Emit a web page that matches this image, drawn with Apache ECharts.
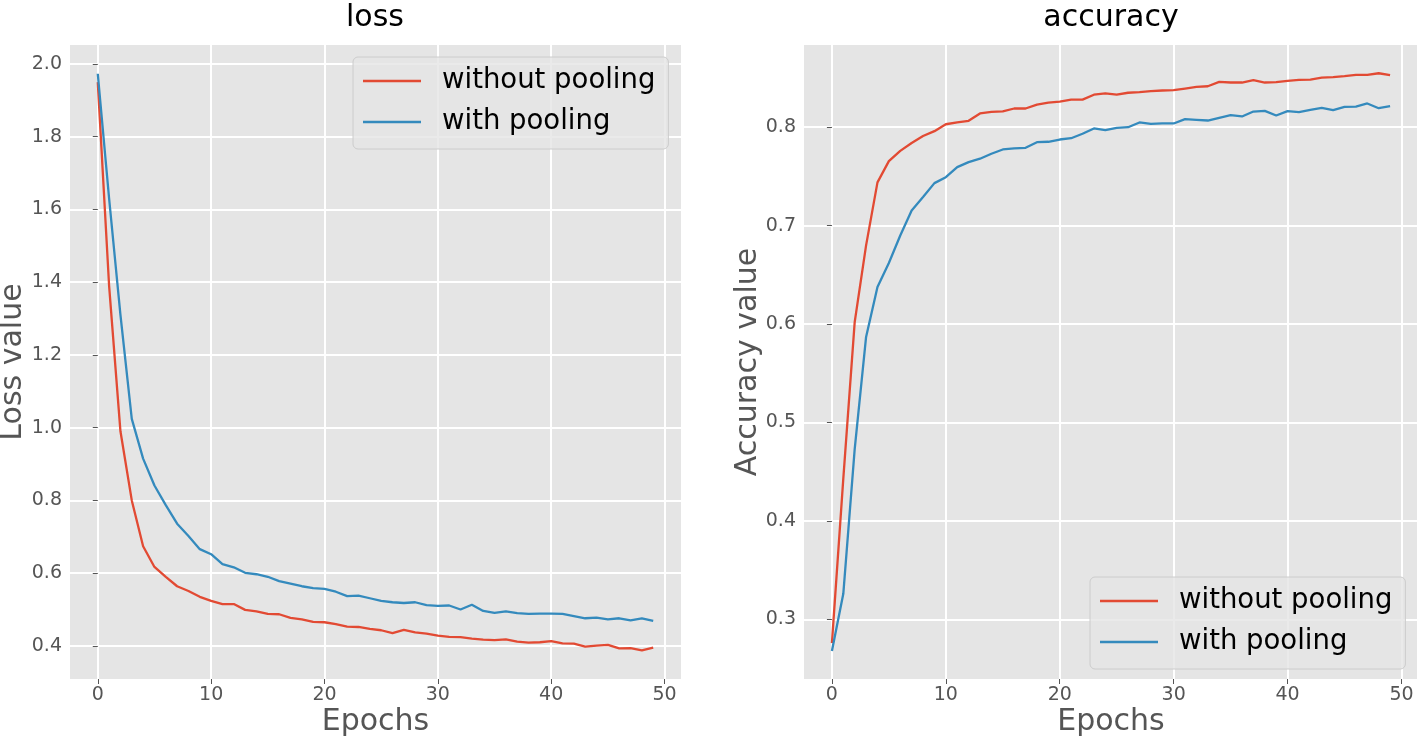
<!DOCTYPE html>
<html>
<head>
<meta charset="utf-8">
<script src="https://cdn.jsdelivr.net/npm/echarts@6/dist/echarts.min.js"></script>
<style>
html,body{margin:0;padding:0;background:#fff;}
#chart{width:1417px;height:736px;}
</style>
</head>
<body>
<div id="chart"></div>
<script>
const epochs = [0,1,2,3,4,5,6,7,8,9,10,11,12,13,14,15,16,17,18,19,20,21,22,23,24,25,26,27,28,29,30,31,32,33,34,35,36,37,38,39,40,41,42,43,44,45,46,47,48,49];

const lossWithoutPooling = [1.950,1.39,0.99,0.80,0.674,0.617,0.590,0.564,0.551,0.535,
  0.524,0.515,0.515,0.499,0.495,0.488,0.487,0.477,0.473,0.466,
  0.465,0.460,0.453,0.452,0.447,0.443,0.435,0.444,0.437,0.434,
  0.428,0.425,0.424,0.420,0.417,0.416,0.418,0.412,0.409,0.410,
  0.413,0.407,0.406,0.398,0.401,0.403,0.393,0.394,0.388,0.395];

const lossWithPooling = [1.973,1.63,1.31,1.024,0.915,0.841,0.787,0.736,0.702,0.666,
  0.652,0.625,0.616,0.601,0.597,0.590,0.578,0.571,0.564,0.559,
  0.557,0.549,0.537,0.538,0.531,0.524,0.520,0.518,0.520,0.512,
  0.510,0.511,0.500,0.513,0.496,0.491,0.495,0.490,0.488,0.489,
  0.489,0.488,0.482,0.476,0.478,0.473,0.476,0.470,0.476,0.469];

const accWithoutPooling = [0.276,0.443,0.602,0.680,0.744,0.7655,0.776,0.784,0.791,0.796,
  0.803,0.805,0.8065,0.814,0.8156,0.816,0.819,0.819,0.823,0.825,
  0.826,0.828,0.828,0.833,0.8343,0.833,0.835,0.8356,0.8366,0.8373,
  0.8376,0.8393,0.841,0.8416,0.8461,0.8454,0.8454,0.8477,0.8454,0.8457,
  0.8471,0.8481,0.8484,0.8504,0.8508,0.8518,0.8532,0.8532,0.8548,0.8528];

const accWithPooling = [0.268,0.326,0.473,0.587,0.6376,0.662,0.690,0.7154,0.729,0.7432,
  0.7492,0.7594,0.7645,0.768,0.773,0.7774,0.7784,0.7791,0.7848,0.7852,
  0.7875,0.7888,0.7933,0.7987,0.797,0.7994,0.800,0.8048,0.8034,0.8038,
  0.8038,0.8082,0.8075,0.8068,0.8095,0.8122,0.8109,0.8159,0.8166,0.8119,
  0.8163,0.8153,0.8176,0.8197,0.8173,0.8207,0.821,0.8241,0.8193,0.8213];

const xTicks = [0,10,20,30,40,50];
const lossTicks = [0.4,0.6,0.8,1.0,1.2,1.4,1.6,1.8,2.0];
const accTicks = [0.3,0.4,0.5,0.6,0.7,0.8];
const seriesNames = ['without pooling','with pooling'];
const titles = ['loss','accuracy'];
const yNames = ['Loss value','Accuracy value'];
const xName = 'Epochs';

const RED = '#E24A33', BLUE = '#348ABD';
const FONT = 'DejaVu Sans';

function pairs(ys){ return epochs.map((e,i)=>[e, ys[i]]); }

function xAxisDef(gridIndex){
  return {
    type:'value', gridIndex, min:-2.45, max:51.45,
    name:xName, nameLocation:'middle', nameGap:28, nameMoveOverlap:false,
    nameTextStyle:{fontFamily:FONT,fontSize:30,color:'#555'},
    axisLine:{show:false},
    axisTick:{show:true,length:5,lineStyle:{color:'#555',width:1},customValues:xTicks},
    axisLabel:{fontFamily:FONT,fontSize:19,color:'#555',margin:7,customValues:xTicks,formatter:v=>String(Math.round(v))},
    splitLine:{show:true,lineStyle:{color:'#fff',width:2}}
  };
}
function yAxisDef(gridIndex,min,max,ticks,name,gap){
  return {
    type:'value', gridIndex, min, max,
    name, nameLocation:'middle', nameGap:gap, nameMoveOverlap:false,
    nameTextStyle:{fontFamily:FONT,fontSize:30,color:'#555'},
    axisLine:{show:false},
    axisTick:{show:true,length:5,lineStyle:{color:'#555',width:1},customValues:ticks},
    axisLabel:{fontFamily:FONT,fontSize:19,color:'#555',margin:8,customValues:ticks,formatter:v=>v.toFixed(1)},
    splitLine:{show:true,lineStyle:{color:'#fff',width:2}}
  };
}
function legendDef(left, top){
  return {data:seriesNames, left, top, orient:'vertical', icon:'rect', itemWidth:58, itemHeight:2.4, itemGap:13,
     padding:[10,13,13,10], backgroundColor:'rgba(229,229,229,0.8)', borderColor:'#cccccc', borderWidth:1, borderRadius:5,
     textStyle:{fontFamily:FONT,fontSize:27.5,color:'#000',padding:[0,0,0,16]}};
}

const chart = echarts.init(document.getElementById('chart'), null, {renderer:'canvas'});
chart.setOption({
  backgroundColor:'#fff',
  animation:false,
  title:[
    {text:titles[0], left:370, top:-2, textAlign:'center', textStyle:{fontFamily:FONT,fontSize:30,fontWeight:'normal',color:'#000'}},
    {text:titles[1], left:1106, top:-2, textAlign:'center', textStyle:{fontFamily:FONT,fontSize:30,fontWeight:'normal',color:'#000'}}
  ],
  grid:[
    {left:70, top:45, width:611, height:634, show:true, backgroundColor:'#E5E5E5', borderWidth:0, outerBoundsMode:'none', containLabel:false},
    {left:804, top:45, width:614, height:634, show:true, backgroundColor:'#E5E5E5', borderWidth:0, outerBoundsMode:'none', containLabel:false}
  ],
  xAxis:[xAxisDef(0), xAxisDef(1)],
  yAxis:[
    yAxisDef(0,0.309,2.052,lossTicks,yNames[0],42),
    yAxisDef(1,0.2395,0.8835,accTicks,yNames[1],41)
  ],
  legend:[legendDef(353,57), legendDef(1090,577)],
  series:[
    {name:seriesNames[0], type:'line', xAxisIndex:0, yAxisIndex:0, data:pairs(lossWithoutPooling), symbol:'none', lineStyle:{color:RED,width:2.3}, itemStyle:{color:RED}},
    {name:seriesNames[1], type:'line', xAxisIndex:0, yAxisIndex:0, data:pairs(lossWithPooling), symbol:'none', lineStyle:{color:BLUE,width:2.3}, itemStyle:{color:BLUE}},
    {name:seriesNames[0], type:'line', xAxisIndex:1, yAxisIndex:1, data:pairs(accWithoutPooling), symbol:'none', lineStyle:{color:RED,width:2.3}, itemStyle:{color:RED}},
    {name:seriesNames[1], type:'line', xAxisIndex:1, yAxisIndex:1, data:pairs(accWithPooling), symbol:'none', lineStyle:{color:BLUE,width:2.3}, itemStyle:{color:BLUE}}
  ]
});
</script>
</body>
</html>
